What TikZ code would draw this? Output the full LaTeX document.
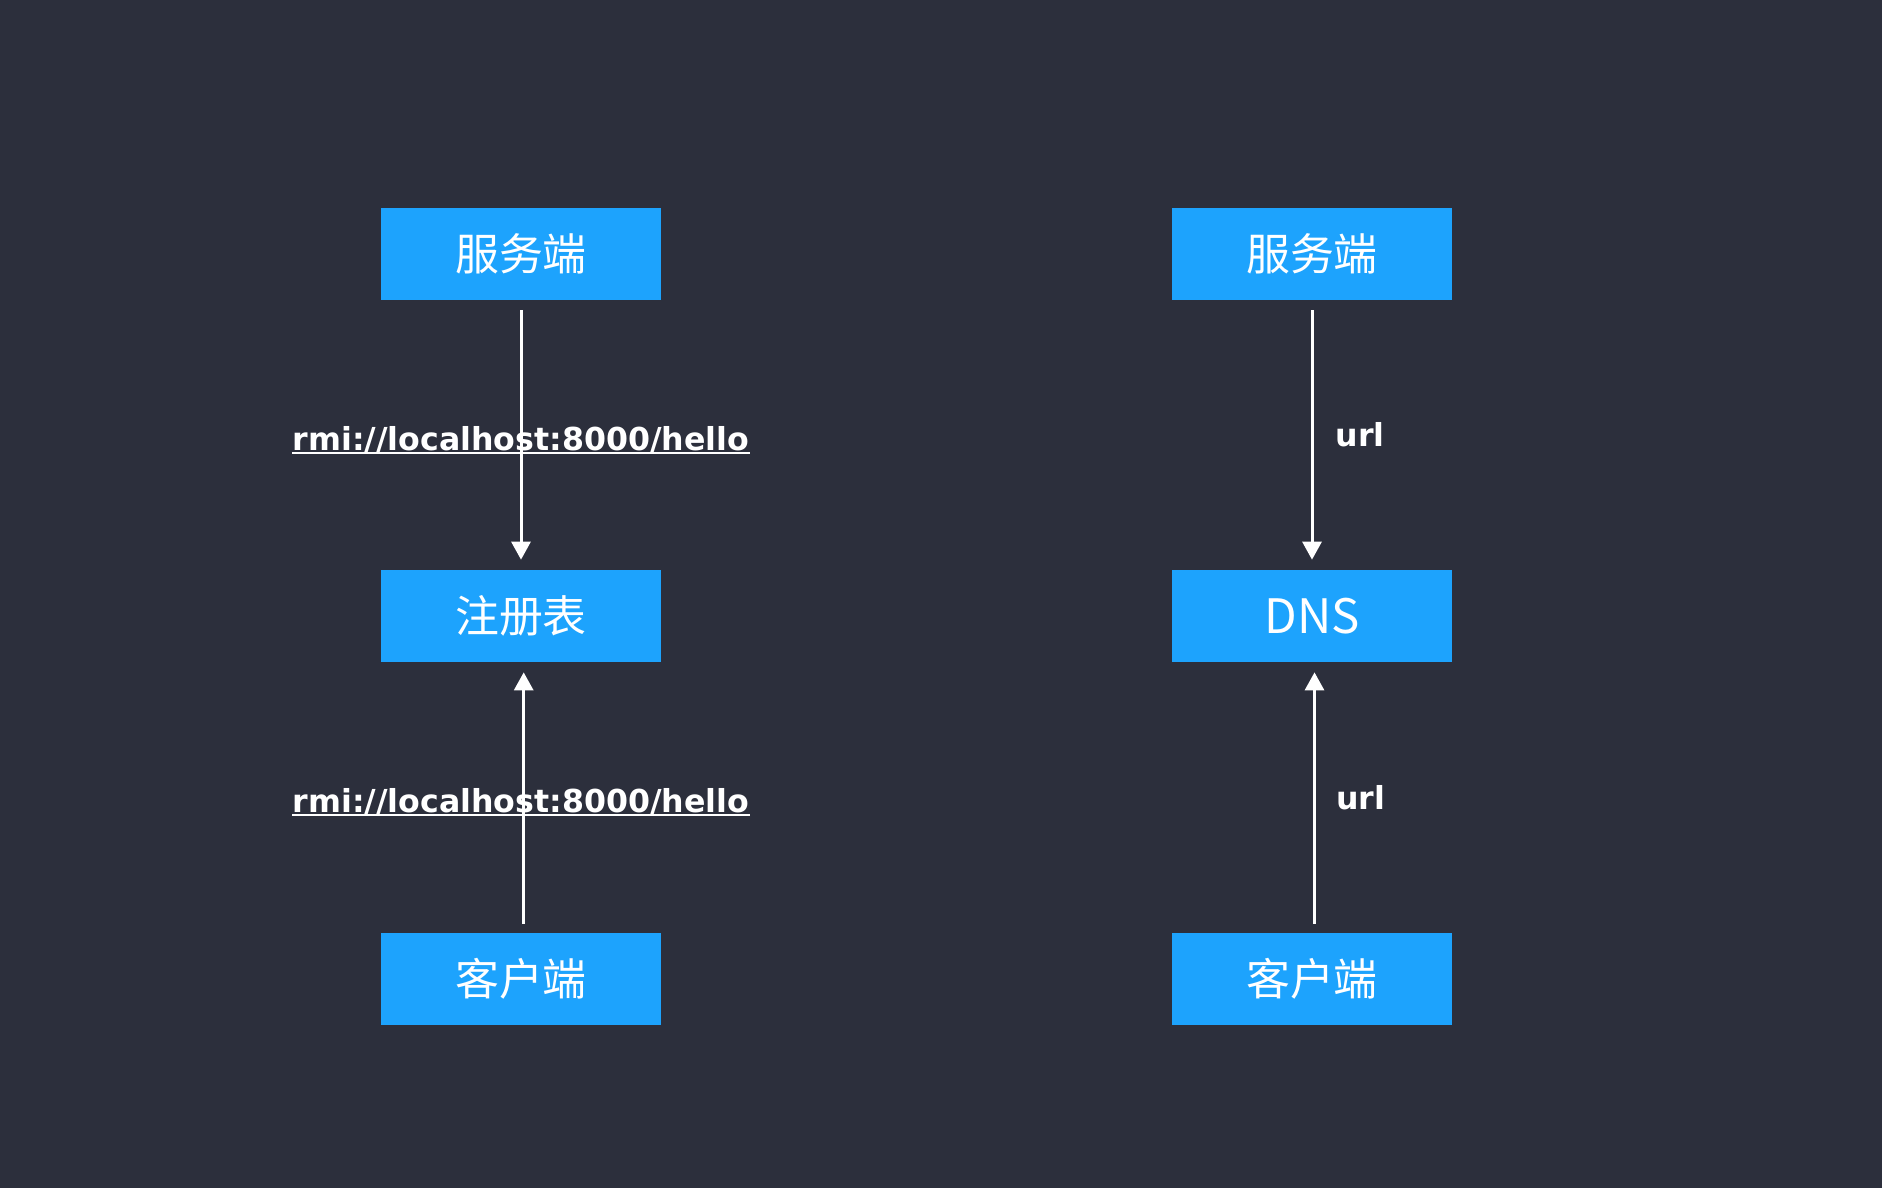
\documentclass[tikz,border=0pt]{standalone}
\usepackage{fontspec}
\setmainfont{DejaVu Sans}
\newfontfamily\cjk{Noto Sans CJK SC}
\usetikzlibrary{arrows.meta,positioning}
\definecolor{bg}{HTML}{2C2F3C}
\definecolor{boxblue}{HTML}{1DA3FD}
\tikzset{
  boxnode/.style={fill=boxblue, minimum width=5.6cm, minimum height=1.84cm, inner sep=0pt, text=white, font=\cjk\fontsize{25}{30}\selectfont},
  flow/.style={-{Triangle[width=0.38cm,length=0.36cm]}, line width=0.06cm, draw=white},
  linklabel/.style={inner sep=0pt, text=white, font=\bfseries\fontsize{18}{22}\selectfont},
  uline/.style={draw=white, line width=0.03cm}
}

\begin{document}
\begin{tikzpicture}[x=0.02cm,y=-0.02cm]
\fill[bg] (0,0) rectangle (1882,1188);
\useasboundingbox (0,0) rectangle (1882,1188);

% RMI side
\node[boxnode] (server) at (521,254) {服务端};
\node[boxnode] (registry) at (521,616) {注册表};
\node[boxnode] (client) at (521,979) {客户端};
\draw[flow, shorten <=0.2cm, shorten >=0.2cm] (server.south) -- (registry.north);
\draw[flow, shorten <=0.18cm, shorten >=0.2cm] ([xshift=0.054cm]client.north) -- ([xshift=0.054cm]registry.south);

\node[linklabel, anchor=base] (bindurl) at (521,450) {rmi://localhost:8000/hello};
\draw[uline] ([yshift=-0.06cm]bindurl.base west) -- ([yshift=-0.06cm]bindurl.base east);
\node[linklabel, anchor=base] (lookupurl) at (521,812) {rmi://localhost:8000/hello};
\draw[uline] ([yshift=-0.06cm]lookupurl.base west) -- ([yshift=-0.06cm]lookupurl.base east);

% DNS side
\node[boxnode] (webserver) at (1312,254) {服务端};
\node[boxnode, font=\cjk\fontsize{27}{32}\selectfont] (dns) at (1312,616) {DNS};
\node[boxnode] (browser) at (1312,979) {客户端};
\draw[flow, shorten <=0.2cm, shorten >=0.2cm] (webserver.south) -- node[linklabel, right=0.44cm] {url} (dns.north);
\draw[flow, shorten <=0.18cm, shorten >=0.2cm] ([xshift=0.05cm]browser.north) -- node[linklabel, right=0.4cm] {url} ([xshift=0.05cm]dns.south);
\end{tikzpicture}
\end{document}
